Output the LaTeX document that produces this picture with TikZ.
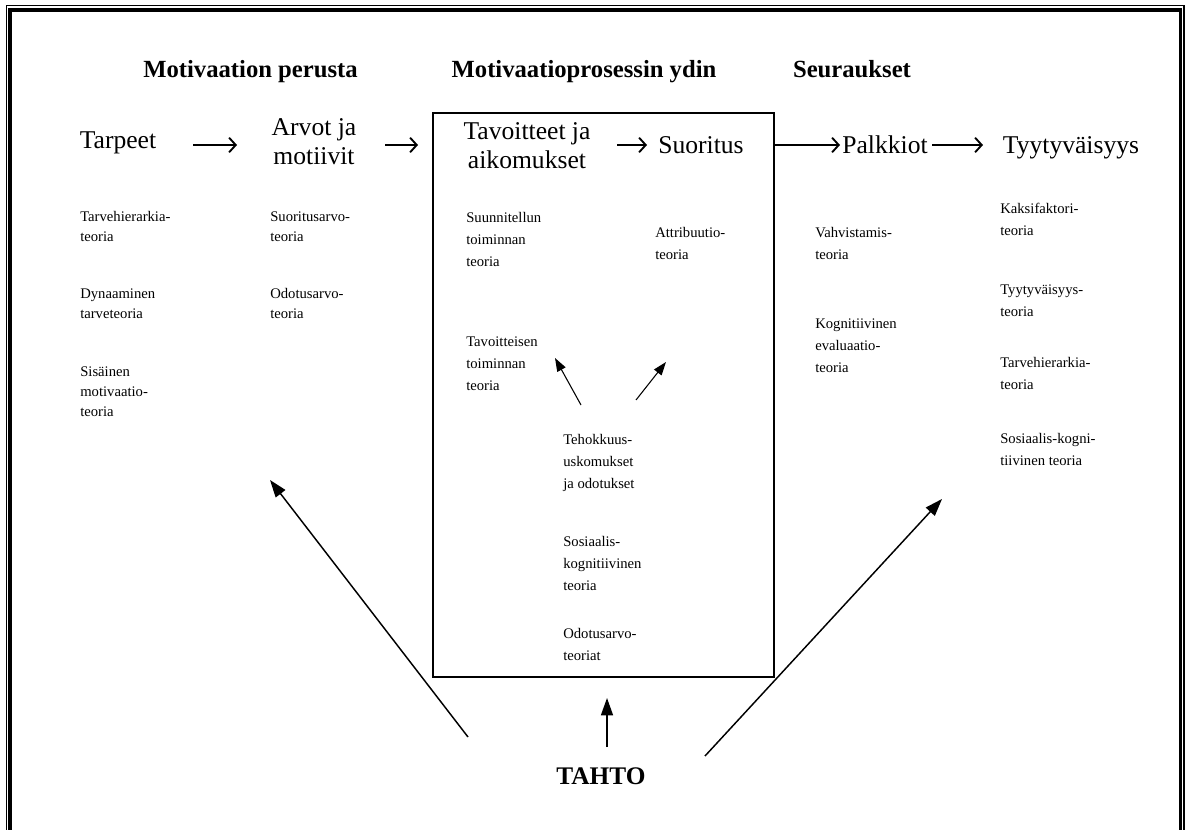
\documentclass[tikz,border=0pt]{standalone}
\usepackage{fontspec}
\setmainfont{Liberation Serif}
\usetikzlibrary{arrows.meta}
\begin{document}
\begin{tikzpicture}[x=0.75pt,y=-0.75pt,
  heading/.style={font=\fontsize{18.5}{22}\selectfont\bfseries, inner sep=0, anchor=base},
  mainlbl/.style={font=\fontsize{19.2}{21.75}\selectfont, inner sep=0, align=center},
  small/.style={font=\fontsize{11}{15}\selectfont, inner sep=0, align=left, anchor=base west},
  smallb/.style={small, font=\fontsize{11}{16.5}\selectfont},
  flow/.style={line width=1.4pt, -{Straight Barb[length=5pt,width=11pt,line width=1.4pt]}},
  bigarrow/.style={line width=1.1pt, -{Triangle[length=13pt,width=9pt]}},
  smallarrow/.style={line width=0.8pt, -{Triangle[length=10pt,width=7pt]}},
  corebox/.style={draw, line width=1.1pt, minimum width=255.75pt, minimum height=423pt, inner sep=0}
]
\useasboundingbox (0,0) rectangle (1187,830);
\clip (0,0) rectangle (1187,830);
% frame
\draw[line width=1.1pt] (6.5,5.5) rectangle (1183.8,850);
\draw[line width=2.3pt] (10,10) rectangle (1180.5,845);

% headings
\node[heading, anchor=base west] (h1) at (143,78) {Motivaation perusta};
\node[heading] (h2) at (584,78) {Motivaatioprosessin ydin};
\node[heading] (h3) at (852,78) {Seuraukset};

% core box
\node[corebox] (core) at (603.5,395) {};

% main row
\node[mainlbl] (tarpeet) at (118,143) {Tarpeet};
\node[mainlbl] (arvot) at (314,142) {Arvot ja\\motiivit};
\node[mainlbl] (tavoitteet) at (527,146) {Tavoitteet ja\\aikomukset};
\node[mainlbl] (suoritus) at (701,145) {Suoritus};
\node[mainlbl] (palkkiot) at (885,145) {Palkkiot};
\node[mainlbl] (tyyt) at (1071,148) {Tyytyväisyys};

\coordinate (a1s) at (193,145); \coordinate (a1e) at (237,145);
\coordinate (a2s) at (385,145); \coordinate (a2e) at (418,145);
\coordinate (a3s) at (617,145); \coordinate (a3e) at (647,145);
\coordinate (a4e) at (840,145);
\coordinate (a5s) at (932,145); \coordinate (a5e) at (983,145);
\draw[flow] (a1s) -- (a1e);
\draw[flow] (a2s) -- (a2e);
\draw[flow] (a3s) -- (a3e);
\draw[flow] (core.east |- a4e) -- (a4e);
\draw[flow] (a5s) -- (a5e);

% theory texts (anchor = baseline of last line)
\node[small] (t1) at (80,242) {Tarvehierarkia-\\teoria};
\node[small] (t2) at (80,319) {Dynaaminen\\tarveteoria};
\node[small] (t3) at (80,416) {Sisäinen\\motivaatio-\\teoria};
\node[small] (t4) at (270,242) {Suoritusarvo-\\teoria};
\node[small] (t5) at (270,319) {Odotusarvo-\\teoria};

\node[smallb] (t6) at (466,267) {Suunnitellun\\toiminnan\\teoria};
\node[smallb] (t7) at (655,260) {Attribuutio-\\teoria};
\node[smallb] (t8) at (466,390) {Tavoitteisen\\toiminnan\\teoria};
\node[smallb] (t9) at (563,488) {Tehokkuus-\\uskomukset\\ja odotukset};
\node[smallb] (t10) at (563,590) {Sosiaalis-\\kognitiivinen\\teoria};
\node[smallb] (t11) at (563,660) {Odotusarvo-\\teoriat};

\node[smallb] (t12) at (815,260) {Vahvistamis-\\teoria};
\node[smallb] (t13) at (815,372) {Kognitiivinen\\evaluaatio-\\teoria};
\node[smallb] (t14) at (1000,236) {Kaksifaktori-\\teoria};
\node[smallb] (t15) at (1000,316) {Tyytyväisyys-\\teoria};
\node[smallb] (t16) at (1000,389) {Tarvehierarkia-\\teoria};
\node[smallb] (t17) at (1000,465) {Sosiaalis-kogni-\\tiivinen teoria};

% small arrows
\coordinate (s1s) at (581,405); \coordinate (s1e) at (555,358);
\coordinate (s2s) at (636,400); \coordinate (s2e) at (666,362);
\draw[smallarrow] (s1s) -- (s1e);
\draw[smallarrow] (s2s) -- (s2e);

% TAHTO
\node[font=\fontsize{19}{22}\selectfont\bfseries, inner sep=0] (tahto) at (601,776) {TAHTO};
\coordinate (b1s) at (468,737); \coordinate (b1e) at (270,480);
\coordinate (b2s) at (607,747); \coordinate (b2e) at (607,698);
\coordinate (b3s) at (705,756); \coordinate (b3e) at (942,499);
\draw[bigarrow] (b1s) -- (b1e);
\draw[bigarrow] (b2s) -- (b2e);
\draw[bigarrow] (b3s) -- (b3e);
\end{tikzpicture}
\end{document}
